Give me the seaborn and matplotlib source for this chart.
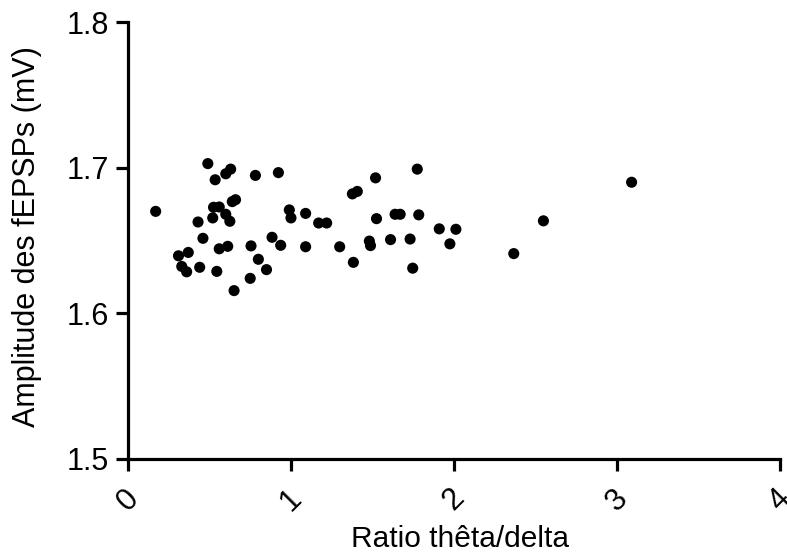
import matplotlib
matplotlib.use("Agg")
import matplotlib.pyplot as plt
import seaborn as sns
import pandas as pd

# Theta/delta ratio and matching fEPSP amplitude (mV) for each recording
ratio = [0.17, 0.31, 0.37, 0.33, 0.36, 0.43, 0.46, 0.44, 0.49, 0.535,
         0.52, 0.525, 0.56, 0.56, 0.545, 0.60, 0.63, 0.60, 0.625, 0.612,
         0.64, 0.66, 0.651, 0.755, 0.75, 0.782, 0.80, 0.85, 0.884, 0.923,
         0.937, 0.99, 1.00, 1.09, 1.09, 1.17, 1.219, 1.299, 1.377, 1.407,
         1.383, 1.481, 1.488, 1.519, 1.525, 1.611, 1.639, 1.670, 1.731, 1.747,
         1.775, 1.784, 1.910, 1.975, 2.012, 2.367, 2.549, 3.090]
amplitude = [1.670, 1.6395, 1.6418, 1.6322, 1.6285, 1.6627, 1.6515, 1.6316, 1.7028, 1.6917,
             1.6655, 1.6728, 1.6730, 1.6443, 1.6288, 1.6958, 1.6990, 1.6680, 1.6632, 1.6460,
             1.6767, 1.6780, 1.6156, 1.6463, 1.6240, 1.6947, 1.6371, 1.6300, 1.6522, 1.6966,
             1.6467, 1.6710, 1.6655, 1.6686, 1.6457, 1.6620, 1.6620, 1.6457, 1.6820, 1.6837,
             1.6350, 1.6496, 1.6465, 1.6930, 1.6650, 1.6506, 1.6680, 1.6680, 1.6510, 1.6310,
             1.6990, 1.6676, 1.6580, 1.6477, 1.6577, 1.6410, 1.6635, 1.6900]

x_ticks = [0, 1, 2, 3, 4]
y_ticks = [1.5, 1.6, 1.7, 1.8]
y_tick_labels = ["1.5", "1.6", "1.7", "1.8"]

df = pd.DataFrame({"ratio": ratio, "amplitude": amplitude})

sns.set_style("ticks")
plt.rcParams["font.family"] = ["Liberation Sans", "DejaVu Sans"]

fig = plt.figure(figsize=(7.87, 5.56), dpi=100)
ax = fig.add_axes([0.1626, 0.1745, 0.8284, 0.7859])

sns.scatterplot(data=df, x="ratio", y="amplitude", ax=ax, color="black",
                s=64, linewidth=0, edgecolor="none", clip_on=False, zorder=3)

ax.set_xlim(0, 4)
ax.set_ylim(1.5, 1.8)
ax.set_xticks(x_ticks)
ax.set_xticklabels([str(t) for t in x_ticks], rotation=45,
                   ha="center", va="top", rotation_mode="default")
ax.set_yticks(y_ticks)
ax.set_yticklabels(y_tick_labels)

sns.despine(ax=ax)
for side in ("left", "bottom"):
    ax.spines[side].set_linewidth(2.3)
    ax.spines[side].set_color("black")

ax.tick_params(axis="both", which="major", length=8.5, width=2.3,
               color="black", labelsize=22, labelcolor="black")
ax.tick_params(axis="x", pad=9)
ax.tick_params(axis="y", pad=5)

ax.set_xlabel("Ratio thêta/delta", fontsize=21.5, color="black")
ax.set_ylabel("Amplitude des fEPSPs (mV)", fontsize=22, color="black")
ax.xaxis.set_label_coords(0.509, -0.15)
ax.yaxis.set_label_coords(-0.132, 0.51)

fig.savefig("out.png", dpi=100)
